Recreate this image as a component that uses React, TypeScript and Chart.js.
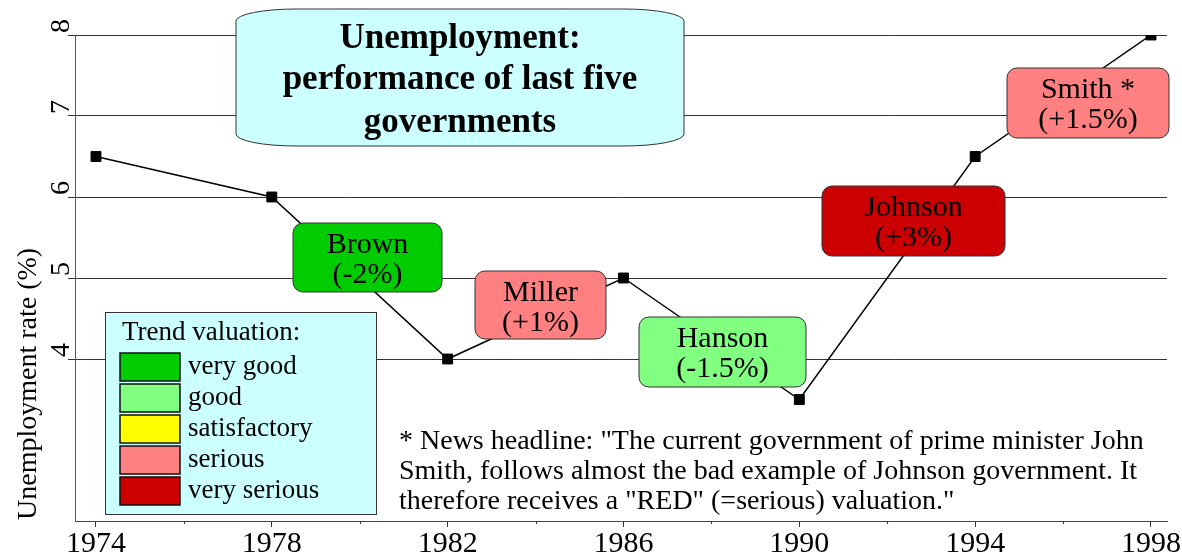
import React, { useEffect, useRef } from 'react';
import { Chart, registerables } from 'chart.js';

Chart.register(...registerables);

// ---- data ----
const years = [1974, 1978, 1982, 1986, 1990, 1994, 1998];
const rates = [6.5, 6.0, 4.0, 5.0, 3.5, 6.5, 8.0];
const xTickYears = [1974, 1978, 1982, 1986, 1990, 1994, 1998];
const xMinorYears = [1976, 1980, 1984, 1988, 1992, 1996];
const yTickValues = [4, 5, 6, 7, 8];

const govNames = ['Brown', 'Miller', 'Hanson', 'Johnson', 'Smith *'];
const govChanges = ['(-2%)', '(+1%)', '(-1.5%)', '(+3%)', '(+1.5%)'];
const govColors = ['#00cc00', '#ff8080', '#80ff80', '#cc0000', '#ff8080'];

const legendTitle = 'Trend valuation:';
const legendLabels = ['very good', 'good', 'satisfactory', 'serious', 'very serious'];
const legendColors = ['#00cc00', '#80ff80', '#ffff00', '#ff8080', '#cc0000'];

const titleLines = ['Unemployment:', 'performance of last five', 'governments'];
const noteLines = [
  '* News headline: "The current government of prime minister John',
  'Smith, follows almost the bad example of Johnson government. It',
  'therefore receives a "RED" (=serious) valuation."',
];
const yAxisTitle = 'Unemployment rate (%)';

// ---- layout (pixels) ----
const govBoxes = [
  { x: 293, y: 223, w: 149, h: 69 },
  { x: 475, y: 271, w: 131, h: 68 },
  { x: 639, y: 317, w: 167, h: 70 },
  { x: 822, y: 186, w: 183, h: 70 },
  { x: 1007, y: 68, w: 162, h: 70 },
];
const titleBox = { x: 236, y: 9, w: 448, h: 137 };
const legendBox = { x: 105, y: 312, w: 271, h: 202 };

const SERIF = "'Liberation Serif', 'Times New Roman', serif";

function ellRect(ctx: CanvasRenderingContext2D, x: number, y: number, w: number, h: number, rx: number, ry: number) {
  ctx.beginPath();
  ctx.moveTo(x + rx, y);
  ctx.lineTo(x + w - rx, y);
  ctx.ellipse(x + w - rx, y + ry, rx, ry, 0, -Math.PI / 2, 0);
  ctx.lineTo(x + w, y + h - ry);
  ctx.ellipse(x + w - rx, y + h - ry, rx, ry, 0, 0, Math.PI / 2);
  ctx.lineTo(x + rx, y + h);
  ctx.ellipse(x + rx, y + h - ry, rx, ry, 0, Math.PI / 2, Math.PI);
  ctx.lineTo(x, y + ry);
  ctx.ellipse(x + rx, y + ry, rx, ry, 0, Math.PI, Math.PI * 1.5);
  ctx.closePath();
}

const annotationPlugin = {
  id: 'annotations',
  afterDatasetsDraw(chart: any) {
    const ctx: CanvasRenderingContext2D = chart.ctx;
    const xs = chart.scales.x;
    const ys = chart.scales.y;
    ctx.save();

    // minor x ticks
    ctx.strokeStyle = '#333';
    ctx.lineWidth = 1;
    for (const yr of xMinorYears) {
      const px = Math.round(xs.getPixelForValue(yr)) + 0.5;
      ctx.beginPath();
      ctx.moveTo(px, ys.bottom);
      ctx.lineTo(px, ys.bottom + 3);
      ctx.stroke();
    }

    // x tick labels
    ctx.fillStyle = '#000';
    ctx.font = `30px ${SERIF}`;
    ctx.textAlign = 'center';
    ctx.textBaseline = 'alphabetic';
    for (const yr of xTickYears) {
      ctx.fillText(String(yr), xs.getPixelForValue(yr), 552);
    }

    // rotated y tick labels
    ctx.font = `28px ${SERIF}`;
    for (const v of yTickValues) {
      const py = ys.getPixelForValue(v);
      ctx.save();
      ctx.translate(69, py - 2);
      ctx.rotate(-Math.PI / 2);
      ctx.textAlign = 'left';
      ctx.textBaseline = 'alphabetic';
      ctx.fillText(String(v), 0, 0);
      ctx.restore();
    }

    // y axis title
    ctx.save();
    ctx.font = `28px ${SERIF}`;
    ctx.translate(36, 520);
    ctx.rotate(-Math.PI / 2);
    ctx.textAlign = 'left';
    ctx.textBaseline = 'alphabetic';
    ctx.fillText(yAxisTitle, 0, 0);
    ctx.restore();

    // title box
    ellRect(ctx, titleBox.x, titleBox.y, titleBox.w, titleBox.h, 60, 12);
    ctx.fillStyle = '#ccffff';
    ctx.fill();
    ctx.strokeStyle = '#333';
    ctx.lineWidth = 1;
    ctx.stroke();
    ctx.fillStyle = '#000';
    ctx.font = `bold 35px ${SERIF}`;
    ctx.textAlign = 'center';
    ctx.textBaseline = 'alphabetic';
    const tcx = titleBox.x + titleBox.w / 2;
    const titleBaselines = [48, 89, 132];
    titleLines.forEach((t, i) => ctx.fillText(t, tcx, titleBaselines[i]));

    // government boxes
    govNames.forEach((name, i) => {
      const b = govBoxes[i];
      ellRect(ctx, b.x, b.y, b.w, b.h, 10, 10);
      ctx.fillStyle = govColors[i];
      ctx.fill();
      ctx.strokeStyle = '#333';
      ctx.lineWidth = 1;
      ctx.stroke();
      ctx.fillStyle = '#000';
      ctx.font = `30px ${SERIF}`;
      ctx.textAlign = 'center';
      ctx.textBaseline = 'middle';
      const cx = b.x + b.w / 2;
      ctx.fillText(name, cx, b.y + 22);
      ctx.fillText(govChanges[i], cx, b.y + 52);
    });

    // legend box
    ctx.fillStyle = '#ccffff';
    ctx.fillRect(legendBox.x, legendBox.y, legendBox.w, legendBox.h);
    ctx.strokeStyle = '#333';
    ctx.lineWidth = 1;
    ctx.strokeRect(legendBox.x + 0.5, legendBox.y + 0.5, legendBox.w, legendBox.h);
    ctx.fillStyle = '#000';
    ctx.font = `27px ${SERIF}`;
    ctx.textAlign = 'left';
    ctx.textBaseline = 'middle';
    ctx.fillText(legendTitle, 122, 333);
    legendLabels.forEach((lab, i) => {
      const sy = 353 + i * 31;
      ctx.fillStyle = legendColors[i];
      ctx.fillRect(120, sy, 60, 28);
      ctx.strokeStyle = '#111';
      ctx.lineWidth = 1.5;
      ctx.strokeRect(120, sy, 60, 28);
      ctx.fillStyle = '#000';
      ctx.fillText(lab, 188, sy + 14);
    });

    // note
    ctx.font = `28px ${SERIF}`;
    ctx.textAlign = 'left';
    ctx.textBaseline = 'middle';
    noteLines.forEach((l, i) => ctx.fillText(l, 399, 442 + i * 30));

    ctx.restore();
  },
};

export default function App() {
  const ref = useRef<HTMLCanvasElement | null>(null);
  useEffect(() => {
    document.body.style.margin = '0';
    const canvas = ref.current!;
    const chart = new Chart(canvas, {
      type: 'line',
      data: {
        datasets: [
          {
            data: years.map((y, i) => ({ x: y, y: rates[i] })),
            borderColor: '#000',
            borderWidth: 1.5,
            backgroundColor: '#000',
            pointStyle: 'rect',
            pointRadius: 7,
            pointBorderWidth: 1,
            pointBorderColor: '#000',
            pointBackgroundColor: '#000',
            tension: 0,
            fill: false,
          },
        ],
      },
      options: {
        animation: false,
        responsive: false,
        maintainAspectRatio: false,
        layout: { padding: { top: 35, right: 15, left: 0, bottom: 0 } },
        plugins: { legend: { display: false }, tooltip: { enabled: false }, title: { display: false } },
        scales: {
          x: {
            type: 'linear',
            min: 1973.523,
            max: 1998.364,
            afterBuildTicks: (s: any) => {
              s.ticks = xTickYears.map((v) => ({ value: v }));
            },
            afterFit: (s: any) => {
              s.height = 32;
            },
            ticks: { display: false },
            grid: { drawOnChartArea: false, drawTicks: true, tickLength: 6, color: '#333' },
            border: { display: true, color: '#444', width: 1 },
          },
          y: {
            type: 'linear',
            min: 2,
            max: 8,
            afterBuildTicks: (s: any) => {
              s.ticks = yTickValues.map((v) => ({ value: v }));
            },
            afterFit: (s: any) => {
              s.width = 75;
            },
            ticks: { display: false },
            grid: { color: '#333', lineWidth: 1, drawTicks: true, tickLength: 7 },
            border: { display: true, color: '#555', width: 1 },
          },
        },
      },
      plugins: [annotationPlugin],
    } as any);
    return () => chart.destroy();
  }, []);
  return (
    <div style={{ width: 1182, height: 553 }}>
      <canvas ref={ref} width={1182} height={553} style={{ display: 'block' }} />
    </div>
  );
}
